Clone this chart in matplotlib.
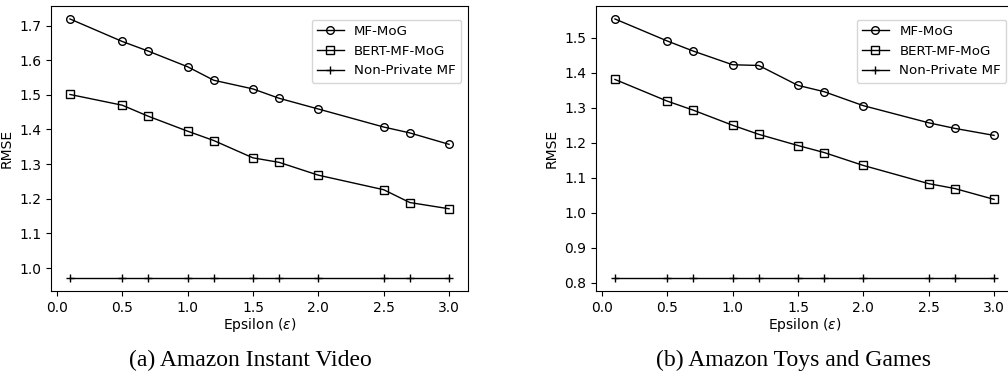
import numpy as np
from matplotlib import pyplot as plt

eps = [0.1, 0.5, 0.7, 1.0, 1.2, 1.5, 1.7, 2.0, 2.5, 2.7, 3.0]

# (a) Amazon Instant Video
mog_a = [1.719, 1.654, 1.626, 1.581, 1.542, 1.517, 1.490, 1.459, 1.407, 1.390, 1.357]
bert_a = [1.501, 1.470, 1.438, 1.395, 1.368, 1.318, 1.305, 1.268, 1.226, 1.189, 1.171]
np_a = [0.971] * len(eps)

# (b) Amazon Toys and Games
mog_b = [1.554, 1.491, 1.462, 1.423, 1.421, 1.364, 1.346, 1.306, 1.257, 1.241, 1.221]
bert_b = [1.381, 1.319, 1.293, 1.250, 1.224, 1.192, 1.172, 1.135, 1.083, 1.069, 1.038]
np_b = [0.813] * len(eps)

captions = ['(a) Amazon Instant Video', '(b) Amazon Toys and Games']
labels = ['MF-MoG', 'BERT-MF-MoG', 'Non-Private MF']

W, H = 1008, 376
fig = plt.figure(figsize=[W/100, H/100], dpi=100)
boxes = [[51, 6, 417, 285], [596, 6, 417, 285]]
data = [(mog_a, bert_a, np_a), (mog_b, bert_b, np_b)]
cap_x = [250, 794]

for i in range(2):
    x0, y0, w, h = boxes[i]
    ax = fig.add_axes([x0/W, 1-(y0+h)/H, w/W, h/H])
    mog, bert, npm = data[i]
    ax.plot(eps, mog, '-o', color='k', lw=1, markersize=5.5, markerfacecolor='none', label=labels[0])
    ax.plot(eps, bert, '-s', color='k', lw=1, markersize=5.5, markerfacecolor='none', label=labels[1])
    ax.plot(eps, npm, '-+', color='k', lw=1, markersize=6, label=labels[2])
    ax.set_xticks([0.0, 0.5, 1.0, 1.5, 2.0, 2.5, 3.0])
    ax.set_xlabel('Epsilon ($\\epsilon$)', fontsize=10, labelpad=1)
    ax.set_ylabel('RMSE', fontsize=10)
    ax.tick_params(labelsize=10)
    ax.legend(fontsize=9.6, loc='upper right', bbox_to_anchor=(1.0, 0.975))
    fig.text(cap_x[i]/W, 1-360/H, captions[i], ha='center', va='center',
             family='Liberation Serif', fontsize=17)

plt.savefig('out.png', dpi=100)
